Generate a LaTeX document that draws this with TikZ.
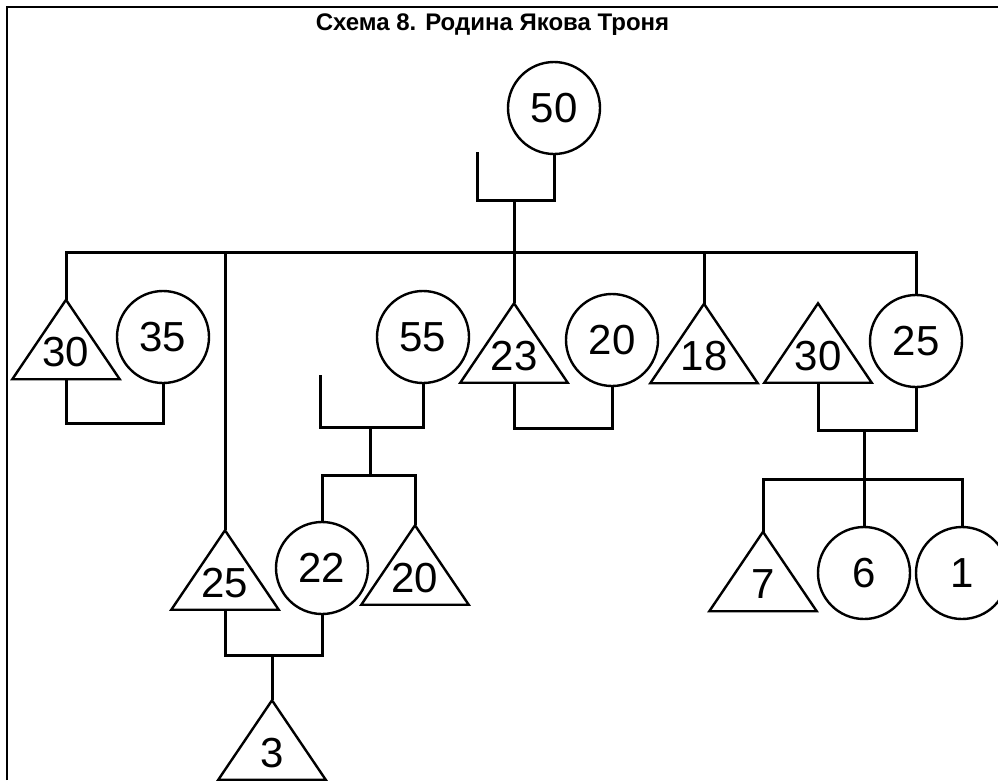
\documentclass[tikz,border=0pt]{standalone}
\usepackage{fontspec}
\setmainfont{Liberation Sans}
\begin{document}
\begin{tikzpicture}[x=1pt,y=-1pt,
  conn/.style={line width=3pt},
  female/.style={circle, draw, line width=2.4pt, minimum size=92pt, inner sep=0pt, font=\fontsize{42}{48}\selectfont},
  male/.style={rectangle, minimum width=107pt, minimum height=79pt, inner sep=0pt, text height=54pt, text depth=0pt, font=\fontsize{42}{48}\selectfont},
  tri/.style={line width=2.4pt},
  frame/.style={line width=1.8pt}]
\useasboundingbox (0,0) rectangle (998,780);
\clip (0,0) rectangle (998,780);

% frame and title
\draw[frame] (7,780) -- (7,7) -- (998,7);
\node[font=\bfseries\fontsize{24}{28}\selectfont, anchor=base, inner sep=0pt] (title) at (492.5,30.7) {Схема 8. Родина Якова Троня};

% women (circles)
\node[female] (c50) at (554,108) {50};
\node[female] (c35) at (163,337) {35};
\node[female] (c55) at (423,337) {55};
\node[female] (c20) at (612,340) {20};
\node[female] (c25) at (916,341) {25};
\node[female] (c22) at (322,568) {22};
\node[female] (c6) at (864,573) {6};
\node[female] (c1) at (962,573) {1};

% men (triangles)
\node[male] (t30a) at (66,339.5) {30};
\node[male] (t23) at (514,343) {23};
\node[male] (t18) at (704,343.5) {18};
\node[male] (t30b) at (818,343) {30};
\node[male] (t25) at (225,570) {25};
\node[male] (t20) at (415,565) {20};
\node[male] (t3) at (272,740) {3};
\node[male] (t7) at (763,571.5) {7};
\foreach \n in {t30a,t23,t18,t30b,t25,t20,t3,t7}
  \draw[tri] (\n.north) -- (\n.south east) -- (\n.south west) -- cycle;

% helper coordinates
\coordinate (s50) at (477,152);
\coordinate (m50) at (514,200);
\coordinate (bus) at (0,252);
\coordinate (k35) at (0,423);
\coordinate (s55) at (320,375);
\coordinate (m55) at (370,427);
\coordinate (b55) at (370,475);
\coordinate (k20) at (0,428);
\coordinate (m25) at (864,430);
\coordinate (b25) at (864,479);
\coordinate (m22) at (272,655);

% connectors
\draw[conn] (s50) |- (c50.south |- m50) -- (c50.south);
\draw[conn] (m50) -- (t23.north);
\draw[conn] (t30a.north) -- (t30a.north |- bus) -- (c25.north |- bus) -- (c25.north);
\draw[conn] (t25.north |- bus) -- (t25.north);
\draw[conn] (t18.north |- bus) -- (t18.north);
\draw[conn] (t30a.south) |- (c35.south |- k35) -- (c35.south);
\draw[conn] (s55) |- (c55.south |- m55) -- (c55.south);
\draw[conn] (m55) -- (b55);
\draw[conn] (c22.north) |- (t20.north |- b55) -- (t20.north);
\draw[conn] (t23.south) |- (c20.south |- k20) -- (c20.south);
\draw[conn] (t30b.south) |- (c25.south |- m25) -- (c25.south);
\draw[conn] (m25) -- (c6.north);
\draw[conn] (t7.north) |- (c1.north |- b25) -- (c1.north);
\draw[conn] (t25.south) |- (c22.south |- m22) -- (c22.south);
\draw[conn] (m22) -- (t3.north);
\end{tikzpicture}
\end{document}
